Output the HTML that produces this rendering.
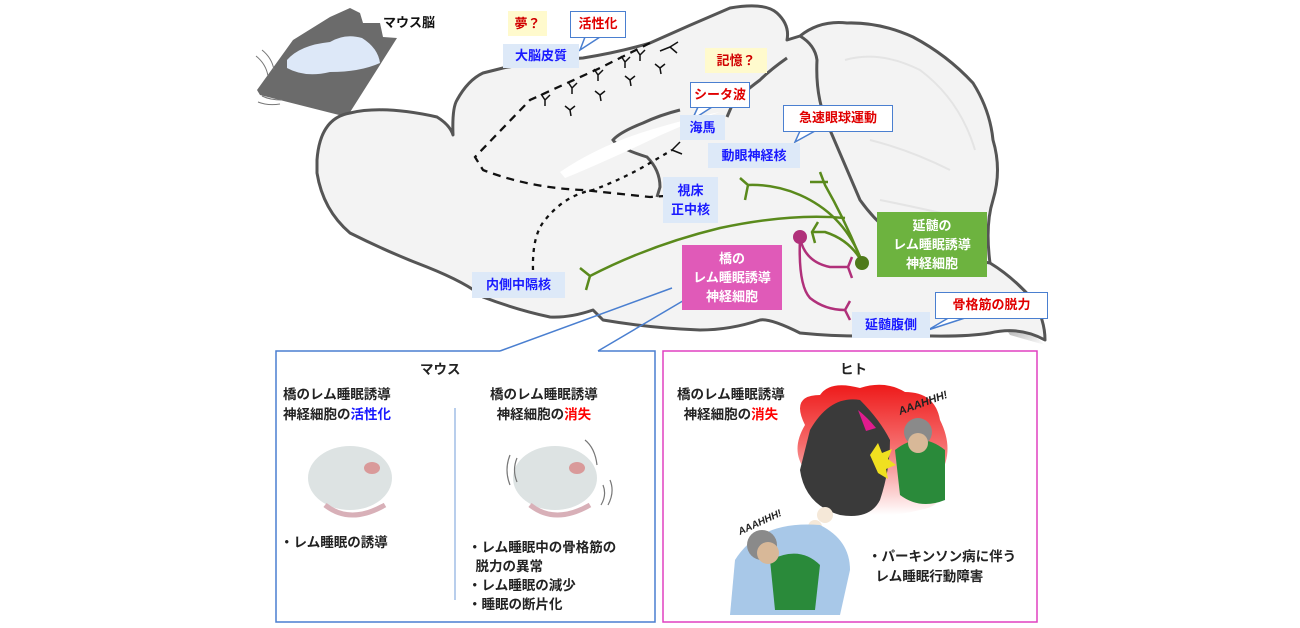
<!DOCTYPE html>
<html><head><meta charset="utf-8">
<style>
html,body{margin:0;padding:0;background:#fff;}
#c{position:relative;width:1300px;height:628px;overflow:hidden;font-family:"Liberation Sans","Noto Sans CJK JP",sans-serif;font-weight:bold;}
.l{position:absolute;font-size:13px;line-height:17px;text-align:center;white-space:nowrap;}
.bl{background:#dde9f8;color:#1a1aff;}
.ye{background:#fffacd;color:#d00000;}
.co{background:#fff;color:#e00000;border:1.5px solid #4a7fd0;box-sizing:border-box;}
.t{position:absolute;font-size:13.5px;line-height:20px;color:#222;white-space:nowrap;font-weight:bold;}
</style></head><body><div id="c">
<svg width="1300" height="628" style="position:absolute;left:0;top:0">
<defs>
<linearGradient id="rg" x1="0" y1="0" x2="0" y2="1"><stop offset="0" stop-color="#ee1a1a"/><stop offset="0.45" stop-color="#f56a6a"/><stop offset="1" stop-color="#ffffff"/></linearGradient>
<linearGradient id="sh" x1="0" y1="0" x2="1" y2="1"><stop offset="0" stop-color="#999"/><stop offset="1" stop-color="#fff"/></linearGradient>
</defs>
<!-- mouse thumbnail -->
<polygon points="257,90 293,40 330,17 350,8 360,13 363,23 380,23 383,37 397,38 347,117 260,95" fill="#6b6b6b"/>
<path d="M287,60 Q300,45 330,42 Q345,33 362,38 Q378,48 380,63 Q360,72 330,72 Q305,78 287,68 Z" fill="#dde8f8"/>
<path d="M262,50 q10,8 12,20 M256,56 q10,8 12,20 M262,96 q8,4 20,4 M258,102 q10,4 22,2" stroke="#777" stroke-width="1" fill="none"/>
<!-- brain curl shadow -->
<path d="M1000,320 Q1030,330 1045,345 L1010,335 Z" fill="url(#sh)"/>
<!-- brain outline -->
<path d="M317,160 Q320,118 350,113 Q383,105 437,117 Q450,125 453,135 Q452,108 457,100 Q468,80 483,73 L503,68 Q545,60 583,58 Q620,52 650,43 Q690,25 730,8 Q765,2 777,13 Q790,25 787,40 L800,36 Q820,20 847,23 Q880,22 913,37 Q947,55 973,83 Q990,110 993,140 Q1002,170 993,200 Q985,225 990,263 Q1013,277 1033,300 Q1045,320 1045,340 Q1020,326 990,333 Q960,338 900,335 Q850,338 800,333 Q770,318 760,320 Q730,330 700,330 Q650,328 603,320 L593,310 Q570,318 550,317 Q517,310 483,297 Q467,283 427,267 Q390,253 350,233 Q323,210 317,173 Z" fill="#f3f3f3" stroke="#555" stroke-width="3" stroke-linejoin="round"/>
<!-- cerebellum inner edge -->
<path d="M800,36 Q815,45 817,60 Q815,100 830,130 Q845,165 860,200 Q880,228 905,242 Q940,255 990,263" fill="none" stroke="#555" stroke-width="3"/>
<path d="M845,60 Q880,50 920,70 Q960,100 975,150 M870,140 Q910,150 950,170 M880,200 Q930,210 970,220" fill="none" stroke="#e4e4e4" stroke-width="2"/>
<!-- cortex lower boundary / hippocampus fold -->
<path d="M787,58 Q770,70 760,80 Q740,95 733,103 L727,117" fill="none" stroke="#555" stroke-width="3"/>
<path d="M680,110 Q660,115 643,123 Q620,132 613,140 Q618,148 647,157 Q660,170 660,187 L657,197" fill="none" stroke="#555" stroke-width="3"/>
<path d="M560,172 Q600,145 650,130 Q690,118 720,112 Q680,125 640,145 Q590,168 565,178 Z" fill="#fff"/>
<!-- dashed pathways -->
<path d="M650,43 L600,68 L530,100 L475,157 L483,170 Q530,188 583,190 L650,197 L665,196" fill="none" stroke="#111" stroke-width="2.3" stroke-dasharray="8,6"/>
<path d="M533,270 Q532,235 545,220 Q565,195 593,190 Q625,178 650,163 L672,150" fill="none" stroke="#111" stroke-width="2.3" stroke-dasharray="4,5"/>
<g stroke="#111" stroke-width="1.5" fill="none">
<path d="M670,47 l8,-5 m-8,5 l7,6 m-7,-6 l-10,4"/>
<path d="M672,150 l8,-8 m-8,8 l10,4"/>
<path d="M545,100 l-4,-6 m4,6 l5,-5 m-5,5 l0,6"/><path d="M572,88 l-4,-6 m4,6 l5,-5 m-5,5 l0,6"/>
<path d="M598,75 l-4,-6 m4,6 l5,-5 m-5,5 l0,6"/><path d="M625,62 l-4,-6 m4,6 l5,-5 m-5,5 l0,6"/>
<path d="M640,55 l-4,-6 m4,6 l5,-5 m-5,5 l0,6"/>
<path d="M570,110 l-5,-4 m5,4 l5,-4 m-5,4 l1,6"/><path d="M600,95 l-5,-4 m5,4 l5,-4 m-5,4 l1,6"/>
<path d="M630,80 l-5,-4 m5,4 l5,-4 m-5,4 l1,6"/><path d="M660,68 l-5,-4 m5,4 l5,-4 m-5,4 l1,6"/>
</g>
<!-- green pathways -->
<g stroke="#5a8a1c" stroke-width="2.5" fill="none">
<path d="M590,276 Q650,245 720,228 Q790,213 845,218"/>
<path d="M580,268 L590,276 L586,290"/>
<path d="M862,262 Q845,215 800,195 Q775,184 748,185"/>
<path d="M740,178 L748,185 L745,200"/>
<path d="M862,262 Q845,220 825,185 L820,172 M810,182 L828,182"/>
<path d="M862,262 Q850,240 825,232 L812,232 M818,222 L812,232 L815,243"/>
</g>
<circle cx="862" cy="263" r="7" fill="#4f7a1a"/>
<!-- magenta -->
<g stroke="#b0307a" stroke-width="2.5" fill="none">
<path d="M800,238 Q805,262 830,267 L848,267 M852,257 L848,267 L852,278"/>
<path d="M800,238 Q798,285 810,298 Q825,310 845,310 M850,301 L845,310 L850,320"/>
</g>
<circle cx="800" cy="237" r="7" fill="#b0307a"/>
<!-- callout tails -->
<g fill="#fff" stroke="#4a7fd0" stroke-width="1.5">
<path d="M585,37 L580,50 L600,37"/>
<path d="M698,107 L692,120 L712,107"/>
<path d="M800,131 L795,142 L815,131"/>
<path d="M950,317 L928,330 L968,317"/>
</g>
<!-- pointer from bottom box -->
<path d="M500,351 L672,288 M598,351 L698,292" stroke="#4a7fd0" stroke-width="1.5"/>
<!-- bottom boxes -->
<path d="M500,351 L276,351 L276,622 L655,622 L655,351 L598,351" fill="none" stroke="#4a7fd0" stroke-width="1.5"/>
<rect x="663" y="351" width="374" height="271" fill="none" stroke="#e040c0" stroke-width="1.5"/>
<line x1="455" y1="408" x2="455" y2="600" stroke="#8aaee0" stroke-width="1.2"/>
<!-- mice -->
<g>
<ellipse cx="350" cy="478" rx="42" ry="32" fill="#dde3e3"/><ellipse cx="372" cy="468" rx="8" ry="6" fill="#d99a9a"/>
<path d="M325,505 Q350,525 385,505" stroke="#d8b0b8" stroke-width="5" fill="none"/>
<ellipse cx="555" cy="478" rx="42" ry="32" fill="#dde3e3"/><ellipse cx="577" cy="468" rx="8" ry="6" fill="#d99a9a"/>
<path d="M530,505 Q555,525 590,505" stroke="#d8b0b8" stroke-width="5" fill="none"/>
<path d="M510,455 q-6,15 0,30 M517,458 q-5,12 0,24 M585,440 q10,8 12,25 M610,480 q5,12 -2,25 M603,485 q4,10 -2,20" stroke="#777" stroke-width="1.2" fill="none"/>
</g>
<!-- cartoon -->
<path d="M805,425 Q790,395 820,395 Q830,380 860,388 Q885,380 905,392 Q935,392 940,420 Q955,450 940,475 Q950,505 920,510 Q880,520 850,510 Q810,505 805,470 Q790,450 805,425 Z" fill="url(#rg)"/>
<path d="M810,430 Q830,395 860,400 Q880,420 890,440 Q890,470 880,500 Q870,520 840,515 Q805,505 800,470 Z" fill="#3a3a3a"/>
<path d="M858,410 q10,8 18,18 l-10,3 z" fill="#e01b8e"/>
<path d="M870,455 l8,-12 l4,10 l10,-4 l-4,10 l8,6 l-10,4 l2,10 l-10,-6 z" fill="#f0e020"/>
<path d="M895,450 Q920,430 945,450 L945,500 Q920,510 900,495 Z" fill="#2a8a3a"/>
<circle cx="918" cy="432" r="14" fill="#8a8a8a"/><circle cx="918" cy="443" r="10" fill="#d8b898"/>
<circle cx="825" cy="515" r="8" fill="#f5e8d8"/><circle cx="815" cy="527" r="7" fill="#f5e8d8"/><circle cx="808" cy="540" r="6" fill="#f5e8d8"/>
<path d="M735,560 Q760,520 820,525 Q850,540 850,570 L840,615 L730,615 Z" fill="#a8c8e8"/>
<path d="M770,560 Q800,545 820,565 L815,610 L775,610 Z" fill="#2a8a3a"/>
<circle cx="762" cy="545" r="15" fill="#8a8a8a"/><circle cx="768" cy="553" r="11" fill="#d8b898"/>
<text x="900" y="415" font-size="11" font-family="Liberation Sans" font-style="italic" transform="rotate(-20 900 415)" fill="#222">AAAHHH!</text>
<text x="740" y="535" font-size="10" font-family="Liberation Sans" font-style="italic" transform="rotate(-25 740 535)" fill="#222">AAAHHH!</text>
</svg>

<div class="l" style="left:383px;top:14px;color:#111;">マウス脳</div>
<div class="l ye" style="left:508px;top:11px;width:39px;height:25px;line-height:25px;">夢？</div>
<div class="l co" style="left:570px;top:11px;width:56px;height:27px;line-height:24px;">活性化</div>
<div class="l bl" style="left:503px;top:44px;width:76px;height:24px;line-height:24px;">大脳皮質</div>
<div class="l ye" style="left:705px;top:48px;width:62px;height:25px;line-height:25px;">記憶？</div>
<div class="l co" style="left:690px;top:82px;width:60px;height:26px;line-height:23px;">シータ波</div>
<div class="l bl" style="left:680px;top:115px;width:45px;height:25px;line-height:25px;">海馬</div>
<div class="l co" style="left:783px;top:105px;width:110px;height:27px;line-height:24px;">急速眼球運動</div>
<div class="l bl" style="left:708px;top:143px;width:92px;height:25px;line-height:25px;">動眼神経核</div>
<div class="l bl" style="left:663px;top:177px;width:55px;height:46px;line-height:19px;padding-top:4px;box-sizing:border-box;">視床<br>正中核</div>
<div class="l" style="left:877px;top:212px;width:110px;height:65px;background:#6db33f;color:#fff;line-height:19px;padding-top:4px;box-sizing:border-box;">延髄の<br>レム睡眠誘導<br>神経細胞</div>
<div class="l" style="left:682px;top:245px;width:100px;height:65px;background:#e05ab8;color:#fff;line-height:19px;padding-top:4px;box-sizing:border-box;">橋の<br>レム睡眠誘導<br>神経細胞</div>
<div class="l bl" style="left:472px;top:272px;width:93px;height:26px;line-height:26px;">内側中隔核</div>
<div class="l bl" style="left:852px;top:312px;width:78px;height:26px;line-height:26px;">延髄腹側</div>
<div class="l co" style="left:935px;top:292px;width:113px;height:27px;line-height:24px;">骨格筋の脱力</div>

<div class="t" style="left:420px;top:360px;">マウス</div>
<div class="t" style="left:283px;top:385px;">橋のレム睡眠誘導<br>神経細胞の<span style="color:#1a1aff">活性化</span></div>
<div class="t" style="left:490px;top:385px;text-align:center;">橋のレム睡眠誘導<br>神経細胞の<span style="color:#ff0000">消失</span></div>
<div class="t" style="left:280px;top:533px;">・レム睡眠の誘導</div>
<div class="t" style="left:468px;top:538px;line-height:19px;">・レム睡眠中の骨格筋の<br>&nbsp;&nbsp;脱力の異常<br>・レム睡眠の減少<br>・睡眠の断片化</div>
<div class="t" style="left:840px;top:360px;">ヒト</div>
<div class="t" style="left:677px;top:385px;text-align:center;">橋のレム睡眠誘導<br>神経細胞の<span style="color:#ff0000">消失</span></div>
<div class="t" style="left:868px;top:547px;">・パーキンソン病に伴う<br>&nbsp;&nbsp;レム睡眠行動障害</div>
</div></body></html>
